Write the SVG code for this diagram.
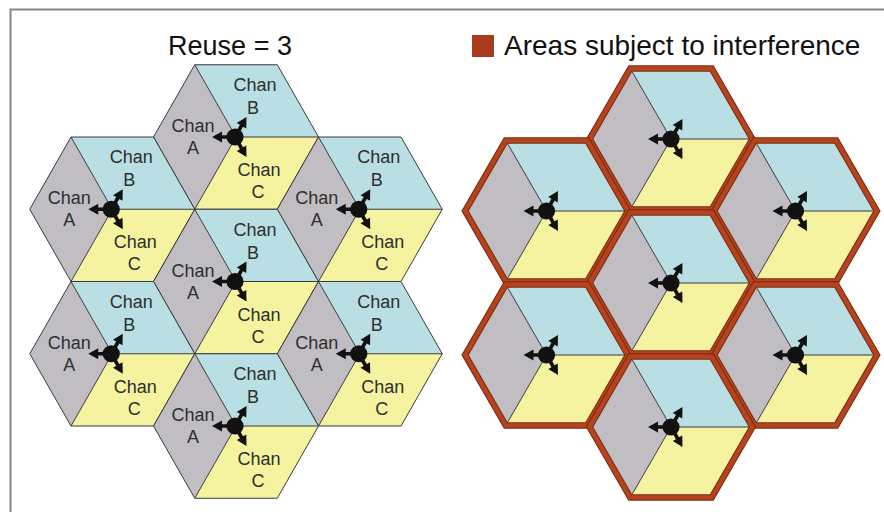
<svg xmlns="http://www.w3.org/2000/svg" xmlns:xlink="http://www.w3.org/1999/xlink" width="884" height="512" viewBox="0 0 884 512">
<style>
.lbl{font-family:"Liberation Sans",Arial,sans-serif;font-size:18px;fill:#2e2e2e;text-anchor:middle}
.ttl{font-family:"Liberation Sans",Arial,sans-serif;font-size:27px;fill:#111}
.a{fill:#c0bec2}.b{fill:#b9dee4}.c{fill:#f5f2a0}
.div{stroke:#3a3a3a;stroke-width:1;fill:none}
</style>
<defs>
<path id="arr" d="M-23,0 L-13,-5.5 L-13,-1.8 L0,-1.8 L0,1.8 L-13,1.8 L-13,5.5 Z" fill="#111"/>
<g id="ant">
<use xlink:href="#arr"/>
<use xlink:href="#arr" transform="rotate(120)"/>
<use xlink:href="#arr" transform="rotate(-120)"/>
<circle r="8.6" fill="#111"/>
</g>
<g id="cellL">
<path class="a" d="M0,0 L-41.25,-72.25 L-82.5,0 L-41.25,72.25 Z"/>
<path class="b" d="M0,0 L-41.25,-72.25 L41.25,-72.25 L82.5,0 Z"/>
<path class="c" d="M0,0 L82.5,0 L41.25,72.25 L-41.25,72.25 Z"/>
<path class="div" d="M-41.25,-72.25 L0,0 L82.5,0 M0,0 L-41.25,72.25"/>
<path class="div" d="M82.5,0 L41.25,-72.25 L-41.25,-72.25 L-82.5,0 L-41.25,72.25 L41.25,72.25 Z"/>
</g>
<g id="cellR">
<path class="a" d="M0,0 L-40.7,-70.5 L-81.4,0 L-40.7,70.5 Z"/>
<path class="b" d="M0,0 L-40.7,-70.5 L40.7,-70.5 L81.4,0 Z"/>
<path class="c" d="M0,0 L81.4,0 L40.7,70.5 L-40.7,70.5 Z"/>
<path class="div" d="M-40.7,-70.5 L0,0 L81.4,0 M0,0 L-40.7,70.5"/>
<path d="M81.4,0 L40.7,-70.5 L-40.7,-70.5 L-81.4,0 L-40.7,70.5 L40.7,70.5 Z" fill="none" stroke="#7a2810" stroke-width="6.5" stroke-linejoin="miter"/>
<path d="M81.4,0 L40.7,-70.5 L-40.7,-70.5 L-81.4,0 L-40.7,70.5 L40.7,70.5 Z" fill="none" stroke="#b4431e" stroke-width="4.5" stroke-linejoin="miter"/>
<use xlink:href="#ant"/>
</g>
<g id="labels">
<text class="lbl" x="19" y="-46">Chan</text><text class="lbl" x="17" y="-23">B</text>
<text class="lbl" x="-43" y="-5">Chan</text><text class="lbl" x="-43" y="17">A</text>
<text class="lbl" x="23" y="39">Chan</text><text class="lbl" x="22" y="61">C</text>
</g>
</defs>
<rect width="884" height="512" fill="#fff"/>
<path d="M10.5,512 V9.5 H884" fill="none" stroke="#858585" stroke-width="2"/>
<text class="ttl" x="230" y="55" text-anchor="middle">Reuse = 3</text>
<g id="legend">
<rect x="472" y="35" width="22" height="22" fill="#a83c1c"/>
<text class="ttl" x="504" y="55" style="font-size:28px">Areas subject to interference</text>
</g>
<g id="left-cluster">
<g id="L-top" transform="translate(236,137)"><use xlink:href="#cellL"/><use xlink:href="#ant" x="-1"/><use xlink:href="#labels"/></g>
<g id="L-ul" transform="translate(112.25,209.25)"><use xlink:href="#cellL"/><use xlink:href="#ant" x="-1"/><use xlink:href="#labels"/></g>
<g id="L-ur" transform="translate(359.75,209.25)"><use xlink:href="#cellL"/><use xlink:href="#ant" x="-1"/><use xlink:href="#labels"/></g>
<g id="L-c" transform="translate(236,281.5)"><use xlink:href="#cellL"/><use xlink:href="#ant" x="-1"/><use xlink:href="#labels"/></g>
<g id="L-ll" transform="translate(112.25,353.75)"><use xlink:href="#cellL"/><use xlink:href="#ant" x="-1"/><use xlink:href="#labels"/></g>
<g id="L-lr" transform="translate(359.75,353.75)"><use xlink:href="#cellL"/><use xlink:href="#ant" x="-1"/><use xlink:href="#labels"/></g>
<g id="L-b" transform="translate(236,426)"><use xlink:href="#cellL"/><use xlink:href="#ant" x="-1"/><use xlink:href="#labels"/></g>
</g>
<g id="right-cluster">
<g id="R-top" transform="translate(671,139)"><use xlink:href="#cellR"/></g>
<g id="R-ul" transform="translate(546.5,211)"><use xlink:href="#cellR"/></g>
<g id="R-ur" transform="translate(795.5,211)"><use xlink:href="#cellR"/></g>
<g id="R-c" transform="translate(671,283)"><use xlink:href="#cellR"/></g>
<g id="R-ll" transform="translate(546.5,355)"><use xlink:href="#cellR"/></g>
<g id="R-lr" transform="translate(795.5,355)"><use xlink:href="#cellR"/></g>
<g id="R-b" transform="translate(671,427)"><use xlink:href="#cellR"/></g>
</g>
<g id="connectors"/>
</svg>
